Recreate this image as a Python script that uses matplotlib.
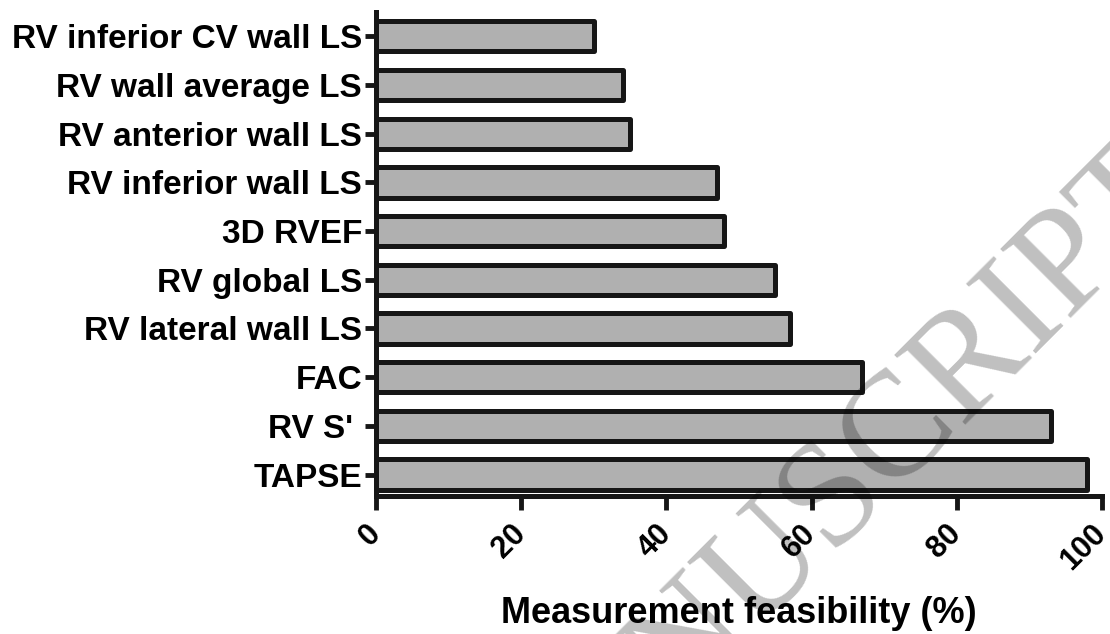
import matplotlib
matplotlib.use("Agg")
import matplotlib.pyplot as plt
import numpy as np

plt.rcParams['font.family'] = ['Liberation Sans', 'DejaVu Sans']
plt.rcParams['font.weight'] = 'bold'

# Measurements, bottom to top as drawn
labels = ["TAPSE", "RV S' ", "FAC", "RV lateral wall LS", "RV global LS",
          "3D RVEF", "RV inferior wall LS", "RV anterior wall LS",
          "RV wall average LS", "RV inferior CV wall LS"]
feasibility = [98, 93, 67, 57, 55, 48, 47, 35, 34, 30]
xticks = [0, 20, 40, 60, 80, 100]

fig = plt.figure(figsize=(11.1, 6.34), dpi=100)
ax = fig.add_axes([376 / 1110, 138 / 634, 726 / 1110, 484 / 634])

ypos = np.arange(len(labels))
bars = ax.barh(ypos, feasibility, height=0.62, color='#b0b0b0',
               edgecolor='#161616', linewidth=3.6)
for b in bars:
    b.set_joinstyle('round')

ax.set_xlim(0, 100)
ax.set_ylim(-0.44, 9.5)
ax.set_yticks(ypos)
ax.set_yticklabels(labels, fontsize=24, fontweight='bold')
ax.set_xticks(xticks)
ax.set_xticklabels([str(t) for t in xticks], fontsize=22, fontweight='bold',
                   rotation=45, ha='right', va='center', rotation_mode='anchor')

for side in ['top', 'right']:
    ax.spines[side].set_visible(False)
for side in ['left', 'bottom']:
    ax.spines[side].set_linewidth(3.6)
    ax.spines[side].set_color('#161616')

ax.tick_params(axis='y', length=8, width=3.5, pad=2, color='#161616')
ax.tick_params(axis='x', length=10, width=3.5, pad=14, color='#161616')

ax.set_xlabel("Measurement feasibility (%)", fontsize=26, fontweight='bold')
ax.xaxis.label.set_va('baseline')
ax.xaxis.set_label_coords(0.5, -0.262)

# watermark across the page
fig.text(1192 / 1110, 1 - 198 / 634, "ACCEPTED MANUSCRIPT", fontsize=108,
         family='Liberation Serif', fontweight='normal', color='black',
         alpha=0.25, rotation=45, rotation_mode='anchor',
         ha='right', va='baseline', zorder=10)

fig.savefig("out.png", dpi=100)
